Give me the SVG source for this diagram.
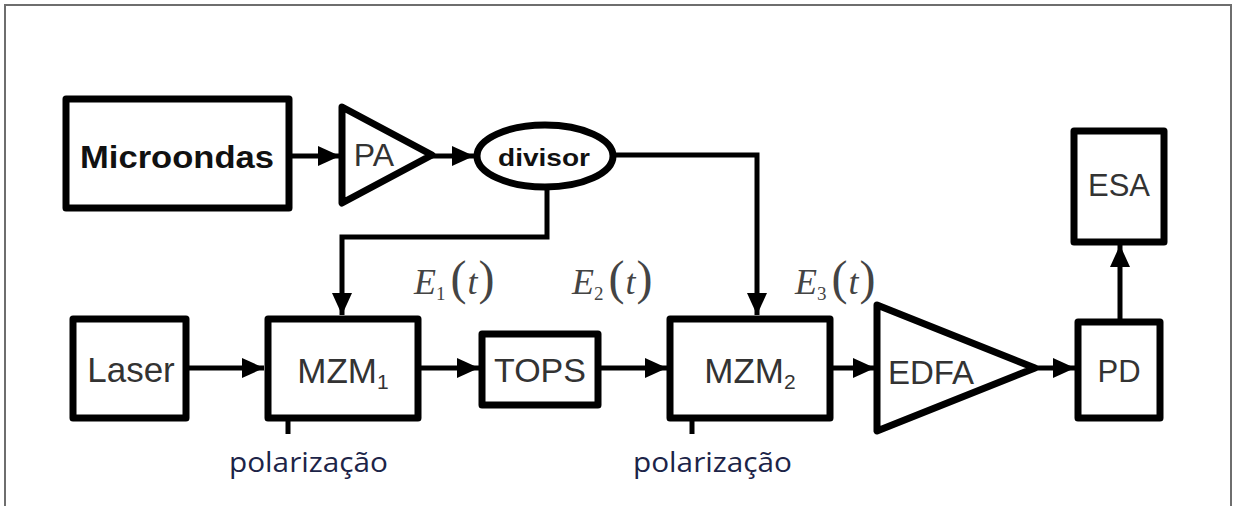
<svg xmlns="http://www.w3.org/2000/svg" width="1235" height="506" viewBox="0 0 1235 506">
  <defs>
    <marker id="arrow" viewBox="0 0 10 10" refX="10" refY="5" markerWidth="4.4" markerHeight="4" markerUnits="strokeWidth" orient="auto" preserveAspectRatio="none">
      <path d="M0,0 L10,5 L0,10 z" fill="#000"/>
    </marker>
    <style>
      .blk { fill: #fff; stroke: #000; stroke-width: 7; stroke-linejoin: round; }
      .lbl { font-family: "Liberation Sans", Arial, sans-serif; fill: #333; text-anchor: middle; }
      .bold { font-family: "Liberation Sans", Arial, sans-serif; font-weight: bold; fill: #111; }
      .wire { fill: none; stroke: #000; stroke-width: 5; }
      .math { font-family: "Liberation Serif", "Times New Roman", serif; fill: #444; }
      .note { font-family: "Open Sans", "Noto Sans", sans-serif; fill: #1c2448; font-size: 27px; }
    </style>
  </defs>

  <rect width="1235" height="506" fill="#fff"/>
  <!-- frame -->
  <path d="M5,506 V5 H1231 V506" fill="none" stroke="#6e6e6e" stroke-width="2"/>

  <!-- connectors -->
  <g id="connectors">
    <line class="wire" x1="290" y1="156" x2="340" y2="156" marker-end="url(#arrow)"/>
    <line class="wire" x1="432" y1="156" x2="474" y2="156" marker-end="url(#arrow)"/>
    <polyline class="wire" points="613,155 757,155 757,315" marker-end="url(#arrow)"/>
    <polyline class="wire" points="547,187 547,237 342,237 342,315" marker-end="url(#arrow)"/>
    <line class="wire" x1="186" y1="368" x2="264" y2="368" marker-end="url(#arrow)"/>
    <line class="wire" x1="418" y1="368" x2="479" y2="368" marker-end="url(#arrow)"/>
    <line class="wire" x1="598" y1="368" x2="667" y2="368" marker-end="url(#arrow)"/>
    <line class="wire" x1="830" y1="368" x2="875" y2="368" marker-end="url(#arrow)"/>
    <line class="wire" x1="1035" y1="368" x2="1075" y2="368" marker-end="url(#arrow)"/>
    <line class="wire" x1="1120" y1="320" x2="1120" y2="245" marker-end="url(#arrow)"/>
    <!-- bias inputs -->
    <line class="wire" x1="288" y1="418" x2="288" y2="434"/>
    <line class="wire" x1="692" y1="418" x2="692" y2="434"/>
  </g>

  <g id="microondas">
    <rect class="blk" x="66" y="99" width="223" height="109"/>
    <text class="bold" x="80" y="168" font-size="32" textLength="194" lengthAdjust="spacingAndGlyphs">Microondas</text>
  </g>

  <g id="pa">
    <polygon class="blk" points="342,107 432,155 342,203" stroke-width="5"/>
    <text class="lbl" x="374" y="166" font-size="32">PA</text>
  </g>

  <g id="divisor">
    <ellipse class="blk" cx="545" cy="156" rx="68" ry="31" stroke-width="5"/>
    <text class="bold" x="498" y="166" font-size="24" textLength="92" lengthAdjust="spacingAndGlyphs">divisor</text>
  </g>

  <g id="esa">
    <rect class="blk" x="1074" y="131" width="90" height="111"/>
    <text class="lbl" x="1119" y="196" font-size="31">ESA</text>
  </g>

  <g id="laser">
    <rect class="blk" x="73" y="319" width="113" height="99"/>
    <text class="lbl" x="131" y="382" font-size="35">Laser</text>
  </g>

  <g id="mzm1">
    <rect class="blk" x="268" y="319" width="150" height="99"/>
    <text class="lbl" x="343" y="383" font-size="35">MZM<tspan font-size="21" dy="6">1</tspan></text>
  </g>

  <g id="tops">
    <rect class="blk" x="482" y="334" width="116" height="71"/>
    <text class="lbl" x="540" y="382" font-size="34">TOPS</text>
  </g>

  <g id="mzm2">
    <rect class="blk" x="670" y="319" width="160" height="99"/>
    <text class="lbl" x="750" y="383" font-size="35">MZM<tspan font-size="21" dy="6">2</tspan></text>
  </g>

  <g id="edfa">
    <polygon class="blk" points="877,305 1035,368 877,431"/>
    <text class="lbl" x="931" y="384" font-size="33">EDFA</text>
  </g>

  <g id="pd">
    <rect class="blk" x="1078" y="322" width="82" height="96"/>
    <text class="lbl" x="1119" y="382" font-size="31">PD</text>
  </g>

  <!-- field labels -->
  <g id="field-labels">
    <text class="math" x="414" y="294" font-size="36" font-style="italic">E<tspan font-size="19" font-style="normal" dy="6">1</tspan><tspan dx="5" dy="-6" font-style="normal" font-size="48">(</tspan><tspan dx="1">t</tspan><tspan dx="1" font-style="normal" font-size="48">)</tspan></text>
    <text class="math" x="572" y="294" font-size="36" font-style="italic">E<tspan font-size="19" font-style="normal" dy="6">2</tspan><tspan dx="5" dy="-6" font-style="normal" font-size="48">(</tspan><tspan dx="1">t</tspan><tspan dx="1" font-style="normal" font-size="48">)</tspan></text>
    <text class="math" x="795" y="294" font-size="36" font-style="italic">E<tspan font-size="19" font-style="normal" dy="6">3</tspan><tspan dx="5" dy="-6" font-style="normal" font-size="48">(</tspan><tspan dx="1">t</tspan><tspan dx="1" font-style="normal" font-size="48">)</tspan></text>
  </g>

  <g id="bias-labels">
    <text class="note" x="229" y="472" textLength="159" lengthAdjust="spacingAndGlyphs">polarização</text>
    <text class="note" x="633" y="472" textLength="159" lengthAdjust="spacingAndGlyphs">polarização</text>
  </g>
</svg>
